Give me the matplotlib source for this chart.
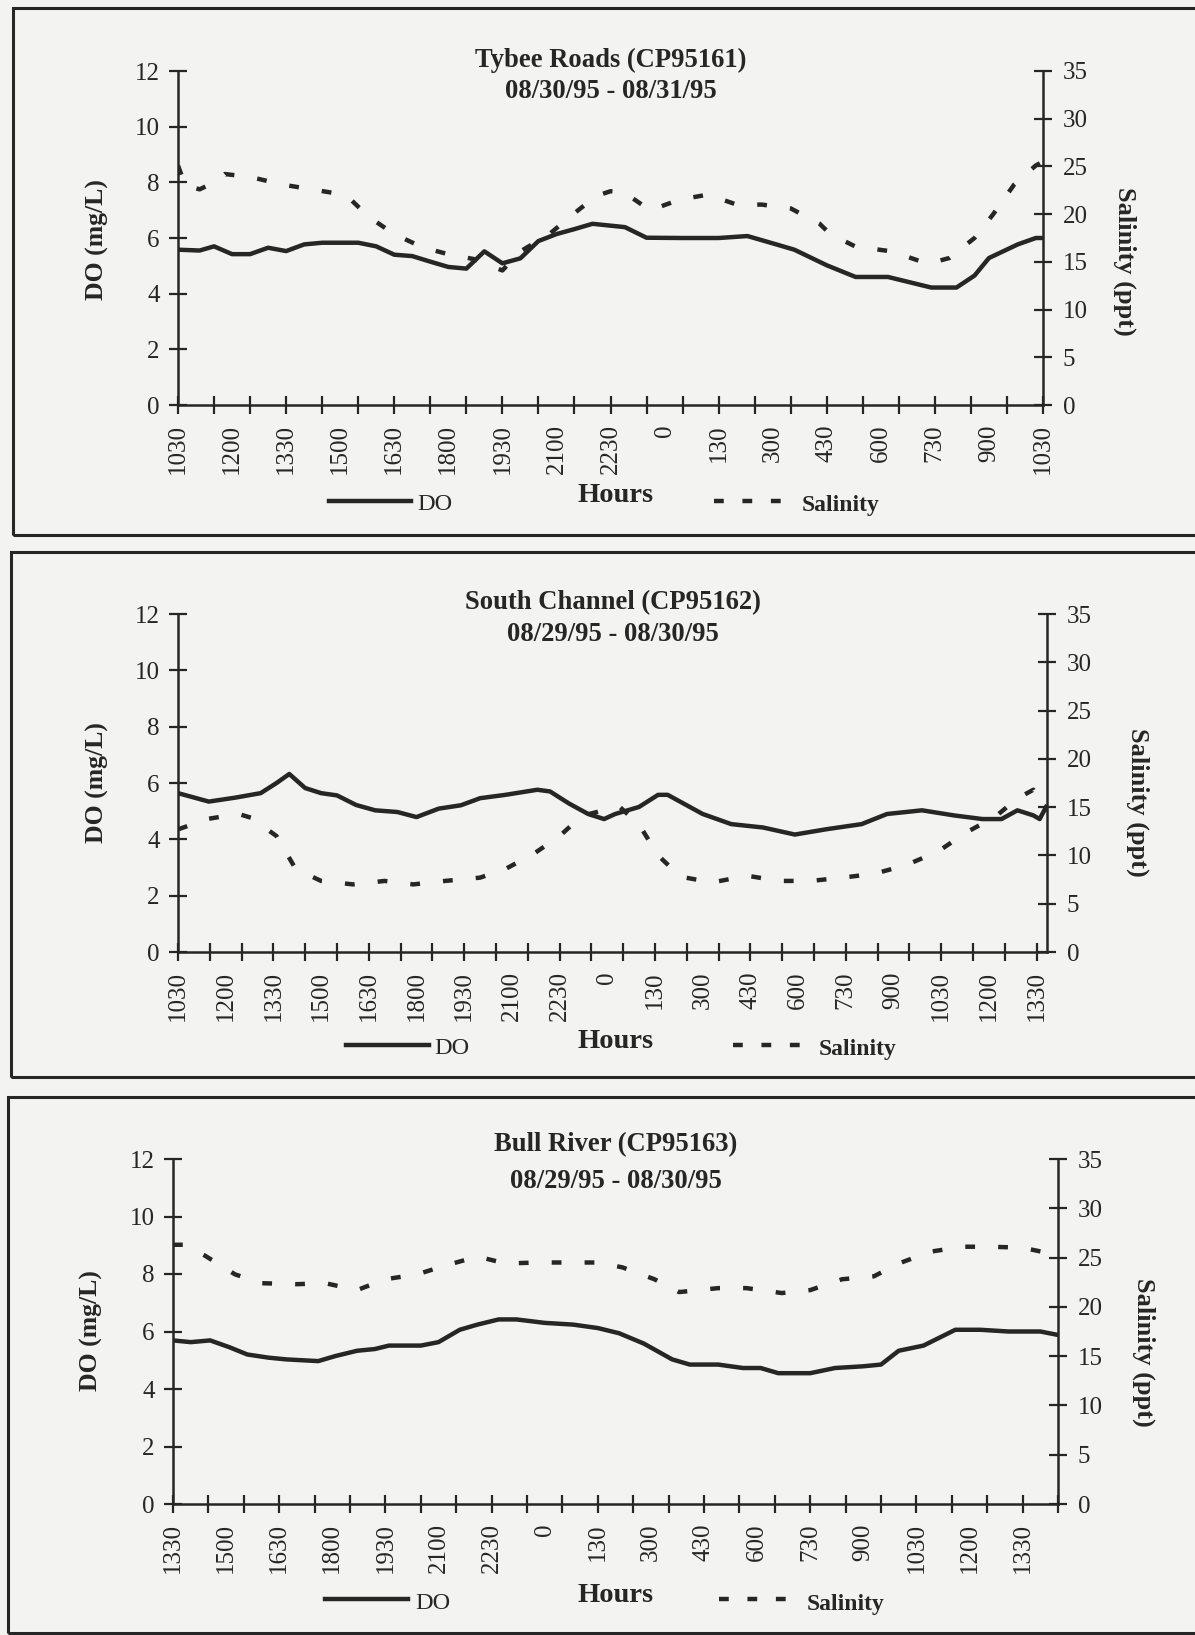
import numpy as np
import matplotlib
matplotlib.use('Agg')
import matplotlib.pyplot as plt
from matplotlib.lines import Line2D
from matplotlib.patches import Rectangle

W, H = 1195, 1635
ink = '#262626'
paper = '#f3f3f1'

plt.rcParams['font.family'] = 'Liberation Serif'

# ---- Tybee Roads (CP95161), hours after 1030 on 08/30/95
tybee_ticklabels = ['1030', '1200', '1330', '1500', '1630', '1800', '1930', '2100', '2230',
                    '0', '130', '300', '430', '600', '730', '900', '1030']
tybee_do_t = [0, 0.6, 1.0, 1.5, 2.0, 2.5, 3.0, 3.5, 4.0, 5.0, 5.5, 6.0, 6.5, 7.0, 7.5, 8.0,
              8.5, 9.0, 9.5, 10.0, 10.5, 11.0, 11.5, 12.4, 13.0, 14.0, 15.0, 15.8, 16.6, 17.1,
              18.0, 18.8, 19.7, 20.9, 21.6, 22.1, 22.5, 23.3, 23.8, 24.0]
tybee_do = [5.58, 5.55, 5.7, 5.42, 5.42, 5.65, 5.53, 5.77, 5.83, 5.83, 5.7, 5.4, 5.35, 5.15,
            4.96, 4.9, 5.52, 5.09, 5.27, 5.89, 6.14, 6.32, 6.51, 6.39, 6.01, 6.0, 6.0, 6.07,
            5.77, 5.58, 5.02, 4.6, 4.6, 4.22, 4.22, 4.65, 5.28, 5.77, 6.0, 6.0]
tybee_sal_t = [0, 0.2, 0.6, 1.1, 1.3, 2.0, 2.9, 3.7, 4.6, 4.8, 5.3, 6.0, 6.8, 7.6, 8.2, 9.0,
               9.5, 10.3, 11.0, 11.6, 12.0, 12.4, 12.6, 13.1, 13.9, 14.7, 15.5, 16.2, 17.0,
               17.8, 18.1, 18.8, 19.8, 20.8, 21.4, 22.1, 22.6, 23.2, 23.8, 24.0]
tybee_sal = [25.1, 23.0, 22.6, 23.5, 24.2, 23.9, 23.1, 22.6, 22.05, 21.5, 19.7, 17.9, 16.5,
             15.7, 15.3, 14.1, 16.1, 17.9, 20.1, 21.9, 22.4, 22.3, 21.7, 20.4, 21.5, 22.05,
             21.0, 21.0, 20.6, 19.0, 17.9, 16.6, 16.1, 14.8, 15.4, 17.5, 19.9, 23.1, 25.1, 25.5]

# ---- South Channel (CP95162), hours after 1030 on 08/29/95
south_ticklabels = ['1030', '1200', '1330', '1500', '1630', '1800', '1930', '2100', '2230',
                    '0', '130', '300', '430', '600', '730', '900', '1030', '1200', '1330']
south_do_t = [0, 0.97, 1.8, 2.6, 3.1, 3.5, 4.0, 4.5, 5.0, 5.6, 6.2, 6.9, 7.5, 8.2, 8.9, 9.5,
              10.3, 11.3, 11.7, 12.3, 12.9, 13.4, 13.75, 14.5, 15.1, 15.4, 16.5, 17.4, 18.4,
              19.4, 20.4, 21.5, 22.3, 23.4, 24.4, 25.3, 25.9, 26.4, 26.9, 27.1, 27.3]
south_do = [5.64, 5.34, 5.48, 5.64, 6.0, 6.32, 5.82, 5.64, 5.56, 5.22, 5.03, 4.97, 4.79, 5.09,
            5.21, 5.46, 5.58, 5.76, 5.7, 5.27, 4.9, 4.72, 4.9, 5.15, 5.58, 5.58, 4.9, 4.54,
            4.42, 4.17, 4.36, 4.54, 4.9, 5.03, 4.85, 4.72, 4.72, 5.03, 4.85, 4.72, 5.15]
south_sal_t = [0, 0.97, 1.9, 2.3, 3.1, 3.7, 4.5, 5.5, 6.5, 7.4, 8.4, 9.5, 10.3, 11.2, 12.0,
               12.7, 13.3, 13.9, 14.5, 15.1, 15.8, 16.8, 17.9, 18.9, 19.9, 20.9, 21.9, 22.9,
               23.9, 24.8, 25.7, 26.4, 26.9, 27.3]
south_sal = [12.7, 13.8, 14.3, 13.9, 12.0, 8.6, 7.36, 7.0, 7.36, 7.0, 7.36, 7.7, 8.6, 10.2,
             12.0, 14.1, 14.6, 15.0, 13.2, 10.0, 7.8, 7.2, 7.9, 7.36, 7.36, 7.7, 8.1, 9.0,
             10.4, 12.4, 14.0, 15.9, 16.8, 14.5]

# ---- Bull River (CP95163), hours after 1330 on 08/29/95
bull_ticklabels = ['1330', '1500', '1630', '1800', '1930', '2100', '2230', '0', '130', '300',
                   '430', '600', '730', '900', '1030', '1200', '1330']
bull_do_t = [0, 0.5, 1.05, 1.6, 2.1, 2.7, 3.2, 4.1, 4.6, 5.2, 5.7, 6.1, 7.0, 7.5, 8.1, 8.6,
             9.2, 9.7, 10.5, 11.3, 12.0, 12.6, 13.3, 14.1, 14.6, 15.4, 16.1, 16.6, 17.1, 18.0,
             18.7, 19.5, 20.0, 20.5, 21.2, 22.1, 22.8, 23.6, 24.5, 25.0]
bull_do = [5.69, 5.63, 5.69, 5.45, 5.2, 5.09, 5.03, 4.97, 5.15, 5.33, 5.39, 5.51, 5.51, 5.63,
           6.06, 6.24, 6.42, 6.42, 6.3, 6.24, 6.12, 5.94, 5.58, 5.03, 4.85, 4.85, 4.73, 4.73,
           4.55, 4.55, 4.73, 4.79, 4.85, 5.33, 5.51, 6.06, 6.06, 6.0, 6.0, 5.88]
bull_sal_t = [0, 0.3, 0.9, 1.75, 2.5, 3.5, 4.3, 5.2, 6.0, 6.9, 7.7, 8.6, 9.4, 10.3, 11.2, 12.0,
              12.7, 13.6, 14.3, 15.4, 16.2, 17.2, 18.0, 18.9, 19.8, 20.5, 21.4, 22.3, 23.1,
              24.0, 24.8, 25.0]
bull_sal = [26.3, 26.3, 25.2, 23.3, 22.4, 22.3, 22.4, 21.7, 22.8, 23.3, 24.2, 25.1, 24.4, 24.5,
            24.5, 24.5, 24.0, 22.8, 21.5, 21.9, 21.9, 21.4, 21.7, 22.8, 23.1, 24.4, 25.6, 26.1,
            26.1, 26.0, 25.4, 25.2]

titles = ['Tybee Roads (CP95161)', 'South Channel (CP95162)', 'Bull River (CP95163)']
dates = ['08/30/95 - 08/31/95', '08/29/95 - 08/30/95', '08/29/95 - 08/30/95']

# layout in pixels (left, top, right, bottom of the plot area), box, text rows
panels = [
    dict(ax=(178, 71, 1043, 405), xmax=24.0, box=(13, 8, 1210, 535), title_y=(60, 92),
         hours_y=496, do_leg=(329, 411, 501), sal_leg=(714, 786, 501), do_txt=(417, 504),
         sal_txt=(802, 505), ylab=(97, 240), ylab2=(1125, 261),
         t=tybee_do_t, do=tybee_do, st=tybee_sal_t, sal=tybee_sal, labels=tybee_ticklabels),
    dict(ax=(178, 614, 1047, 952), xmax=27.33, box=(11, 552, 1210, 1077), title_y=(603, 634),
         hours_y=1041, do_leg=(346, 429, 1045), sal_leg=(733, 805, 1045), do_txt=(434, 1048),
         sal_txt=(819, 1049), ylab=(97, 783), ylab2=(1138, 802),
         t=south_do_t, do=south_do, st=south_sal_t, sal=south_sal, labels=south_ticklabels),
    dict(ax=(173, 1159, 1058, 1504), xmax=25.0, box=(8, 1097, 1210, 1633), title_y=(1145, 1181),
         hours_y=1595, do_leg=(325, 408, 1599), sal_leg=(719, 792, 1599), do_txt=(415, 1603),
         sal_txt=(807, 1604), ylab=(91, 1331), ylab2=(1144, 1352),
         t=bull_do_t, do=bull_do, st=bull_sal_t, sal=bull_sal, labels=bull_ticklabels),
]

fig = plt.figure(figsize=(W / 100, H / 100), dpi=100, facecolor=paper)


def fx(x):
    return x / W


def fy(y):
    return 1 - y / H


sal_dash = (0, (2.2, 5.2))

for i, p in enumerate(panels):
    l, t, r, b = p['ax']
    # panel frame
    bx0, by0, bx1, by1 = p['box']
    fig.add_artist(Rectangle((fx(bx0), fy(by1)), fx(bx1 - bx0), (by1 - by0) / H,
                             transform=fig.transFigure, fill=False, ec=ink, lw=2.2))

    ax = fig.add_axes([fx(l), fy(b), (r - l) / W, (b - t) / H])
    ax.patch.set_visible(False)
    ax2 = ax.twinx()
    ax2.patch.set_visible(False)

    ax.plot(p['t'], p['do'], color=ink, lw=3.2, solid_joinstyle='round')
    ax2.plot(p['st'], p['sal'], color=ink, lw=3.2, linestyle=sal_dash)

    ax.set_xlim(0, p['xmax'])
    ax.set_ylim(0, 12)
    ax2.set_ylim(0, 35)
    ax.set_yticks(np.arange(0, 13, 2))
    ax2.set_yticks(np.arange(0, 36, 5))

    n = len(p['labels'])
    ax.set_xticks(np.arange(n) * 1.5)
    ax.set_xticklabels(p['labels'], rotation=90)
    ax.set_xticks(np.arange(0, np.floor(p['xmax']) + 1, 1.0), minor=True)
    ax.xaxis.remove_overlapping_locs = False

    for s in ['top', 'right']:
        ax.spines[s].set_visible(False)
    for s in ['top', 'left', 'bottom']:
        ax2.spines[s].set_visible(False)
    for a in (ax, ax2):
        for s in a.spines.values():
            s.set_color(ink)
            s.set_linewidth(1.8)

    ax.tick_params(axis='x', which='major', length=0, pad=14, labelsize=18, colors=ink)
    ax.tick_params(axis='x', which='minor', direction='inout', length=13.5, width=1.6,
                   color=ink)
    ax.tick_params(axis='y', direction='inout', length=13.5, width=1.6, pad=6.5,
                   labelsize=18, colors=ink)
    ax2.tick_params(axis='y', direction='inout', length=13.5, width=1.6, pad=7.5,
                    labelsize=18, colors=ink)

    cx = (l + r) / 2
    fig.text(fx(cx), fy(p['title_y'][0]), titles[i], ha='center', va='center',
             fontsize=19.2, fontweight='bold', color=ink)
    fig.text(fx(cx), fy(p['title_y'][1]), dates[i], ha='center', va='center',
             fontsize=19.2, fontweight='bold', color=ink)
    fig.text(fx(p['ylab'][0]), fy(p['ylab'][1]), 'DO (mg/L)', rotation=90, ha='center',
             va='center', fontsize=18.5, fontweight='bold', color=ink)
    fig.text(fx(p['ylab2'][0]), fy(p['ylab2'][1]), 'Salinity (ppt)', rotation=-90,
             ha='center', va='center', fontsize=19, fontweight='bold', color=ink)
    fig.text(fx(616), fy(p['hours_y']), 'Hours', ha='center', va='center',
             fontsize=20.5, fontweight='bold', color=ink)

    # legend entries
    x0, x1, y = p['do_leg']
    fig.add_artist(Line2D([fx(x0), fx(x1)], [fy(y), fy(y)], transform=fig.transFigure,
                          color=ink, lw=3.2))
    fig.text(fx(p['do_txt'][0]), fy(p['do_txt'][1]), 'DO', ha='left', va='center',
             fontsize=17.5, color=ink)
    x0, x1, y = p['sal_leg']
    fig.add_artist(Line2D([fx(x0), fx(x1)], [fy(y), fy(y)], transform=fig.transFigure,
                          color=ink, lw=3.2, linestyle=(0, (2.2, 4.2))))
    fig.text(fx(p['sal_txt'][0]), fy(p['sal_txt'][1]), 'Salinity', ha='left', va='center',
             fontsize=17, fontweight='bold', color=ink)

fig.savefig('out.png', dpi=100, facecolor=paper)
